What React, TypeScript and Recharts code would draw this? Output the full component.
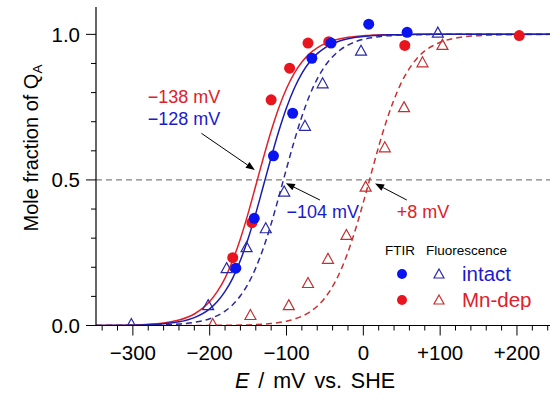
import React from "react";
import {
    ComposedChart,
    Line,
    Scatter,
    XAxis,
    YAxis,
    ReferenceLine,
    ReferenceDot,
    Legend,
} from "recharts";

const curveE = [
    -348, -300, -260, -240, -220, -200, -190, -180, -170, -160, -150, -140,
    -130, -120, -110, -100, -90, -80, -70, -60, -50, -40, -30, -20, -10, 0, 10,
    20, 30, 40, 50, 60, 70, 80, 90, 100, 120, 140, 160, 200, 243,
];
// solid blue, Em -128 mV
const ftirIntactFit = [
    0.0002, 0.0012, 0.0058, 0.0126, 0.0271, 0.0572, 0.0822, 0.117, 0.163,
    0.224, 0.298, 0.385, 0.481, 0.577, 0.668, 0.748, 0.814, 0.866, 0.905,
    0.934, 0.954, 0.968, 0.978, 0.985, 0.99, 0.993, 0.995, 0.997, 0.998, 0.999,
    0.999, 0.999, 1, 1, 1, 1, 1, 1, 1, 1, 1,
];
// solid red, Em -138 mV
const ftirMnFit = [
    0.0003, 0.0018, 0.0086, 0.0186, 0.0395, 0.0822, 0.117, 0.163, 0.224, 0.298,
    0.385, 0.481, 0.577, 0.668, 0.748, 0.814, 0.866, 0.905, 0.934, 0.954,
    0.968, 0.978, 0.985, 0.99, 0.993, 0.995, 0.997, 0.998, 0.999, 0.999, 0.999,
    1, 1, 1, 1, 1, 1, 1, 1, 1, 1,
];
// dashed blue, Em -104 mV
const fluoIntactFit = [
    0.0001, 0.0005, 0.0023, 0.005, 0.0108, 0.0233, 0.034, 0.0494, 0.0712,
    0.102, 0.143, 0.198, 0.267, 0.349, 0.442, 0.539, 0.633, 0.718, 0.79, 0.847,
    0.891, 0.923, 0.947, 0.963, 0.975, 0.983, 0.988, 0.992, 0.995, 0.996,
    0.998, 0.998, 0.999, 0.999, 1, 1, 1, 1, 1, 1, 1,
];
// dashed red, Em +8 mV
const fluoMnFit = [
    0, 0, 0, 0.0001, 0.0001, 0.0003, 0.0005, 0.0007, 0.001, 0.0014, 0.0021,
    0.0031, 0.0046, 0.0068, 0.01, 0.0147, 0.0216, 0.0316, 0.0459, 0.0662,
    0.0948, 0.134, 0.186, 0.252, 0.332, 0.423, 0.519, 0.615, 0.702, 0.776,
    0.837, 0.883, 0.918, 0.943, 0.96, 0.973, 0.987, 0.994, 0.997, 0.999, 1,
];

// measured points
const ftirIntactE = [-166, -142, -117, -92, -67, -42, 7, 57];
const ftirIntactY = [0.197, 0.368, 0.583, 0.729, 0.918, 0.97, 1.035, 1.007];
const ftirMnE = [-170, -145, -120, -96, -72, -45, 54, 203];
const ftirMnY = [0.233, 0.353, 0.775, 0.884, 0.97, 0.975, 0.962, 0.996];
const fluoIntactE = [-302, -202, -178, -152, -127, -103, -76, -53, -3, 97];
const fluoIntactY = [
    0.005, 0.07, 0.197, 0.269, 0.334, 0.46, 0.686, 0.832, 0.944, 1.006,
];
const fluoMnE = [-196, -147, -97, -72, -46, -22, 3, 28, 53, 77, 103];
const fluoMnY = [
    0.005, 0.036, 0.07, 0.146, 0.229, 0.311, 0.477, 0.612, 0.75, 0.904, 0.964,
];

const xTicks = [
    -340, -320, -300, -280, -260, -240, -220, -200, -180, -160, -140, -120,
    -100, -80, -60, -40, -20, 0, 20, 40, 60, 80, 100, 120, 140, 160, 180, 200,
    220, 240,
];
const yTicks = [0, 0.1, 0.2, 0.3, 0.4, 0.5, 0.6, 0.7, 0.8, 0.9, 1.0];

const FONT = "'Liberation Sans', Arial, sans-serif";
const BLUE_DOT = "#0a14f0";
const RED_DOT = "#e8141e";
const BLUE_LINE = "#1c1cb0";
const RED_LINE = "#e0202a";
const BLUE_TEXT = "#1a1ad0";
const BLUE_DASH = "#2a2a9c";
const RED_DASH = "#c83232";
const BLUE_TRI = "#2a2aa8";
const RED_TRI = "#c43030";

const pts = (xs: number[], ys: number[]) =>
    xs.map((E, i) => ({ E, y: ys[i] }));

function fmtE(v: number) {
    if (v < 0) return "\u2212" + Math.abs(v);
    if (v > 0) return "+" + v;
    return "0";
}

function XTick(props: any) {
    const { x, y, payload } = props;
    const v = payload.value;
    const major = v % 100 === 0;
    const axisY = y - 20;
    return (
        <g>
            <line
                x1={x}
                x2={x}
                y1={axisY}
                y2={axisY + (major ? 10 : 5)}
                stroke="#000"
                strokeWidth={1}
            />
            {major && (
                <text
                    x={x}
                    y={y}
                    dy="0.71em"
                    textAnchor="middle"
                    fontSize={20.5}
                    fontFamily={FONT}
                    fill="#000"
                >
                    {fmtE(v)}
                </text>
            )}
        </g>
    );
}

function YTick(props: any) {
    const { x, y, payload } = props;
    const v = payload.value;
    const major = Math.abs(v * 2 - Math.round(v * 2)) < 1e-6;
    const axisX = x + 16;
    return (
        <g>
            <line
                x1={axisX - (major ? 10 : 5)}
                x2={axisX}
                y1={y}
                y2={y}
                stroke="#000"
                strokeWidth={1}
            />
            {major && (
                <text
                    x={x}
                    y={y}
                    dy="0.355em"
                    textAnchor="end"
                    fontSize={20.5}
                    fontFamily={FONT}
                    fill="#000"
                >
                    {v.toFixed(1)}
                </text>
            )}
        </g>
    );
}

const circle = (color: string) => (p: any) =>
    <circle cx={p.cx} cy={p.cy} r={5.5} fill={color} />;

const triangle = (color: string) => (p: any) =>
    (
        <polygon
            points={`${p.cx},${p.cy - 5.5} ${p.cx + 5.5},${p.cy + 4.5} ${
                p.cx - 5.5
            },${p.cy + 4.5}`}
            fill="none"
            stroke={color}
            strokeWidth={1.2}
        />
    );

const note = (txt: string, color: string) => (p: any) =>
    (
        <text
            x={p.cx}
            y={p.cy}
            fill={color}
            fontSize={18}
            fontFamily={FONT}
        >
            {txt}
        </text>
    );

const arrow = (p: any) => {
    const { x1, y1, x2, y2 } = p;
    const dx = x2 - x1;
    const dy = y2 - y1;
    const len = Math.sqrt(dx * dx + dy * dy) || 1;
    const ux = dx / len;
    const uy = dy / len;
    const hl = 9;
    const hw = 3.5;
    const bx = x2 - ux * hl;
    const by = y2 - uy * hl;
    return (
        <g>
            <line x1={x1} y1={y1} x2={bx} y2={by} stroke="#000" strokeWidth={1} />
            <polygon
                points={`${x2},${y2} ${bx - uy * hw},${by + ux * hw} ${
                    bx + uy * hw
                },${by - ux * hw}`}
                fill="#000"
            />
        </g>
    );
};

function LegendBox() {
    const tri = (cx: number, cy: number, color: string) => (
        <polygon
            points={`${cx},${cy - 5} ${cx + 5},${cy + 4} ${cx - 5},${cy + 4}`}
            fill="none"
            stroke={color}
            strokeWidth={1.2}
        />
    );
    return (
        <svg width={160} height={72} style={{ display: "block" }}>
            <text x={5} y={17} fontSize={13.5} fontFamily={FONT} fill="#000">
                FTIR
            </text>
            <text x={46} y={17} fontSize={13.5} fontFamily={FONT} fill="#000">
                Fluorescence
            </text>
            <circle cx={22} cy={36} r={5} fill={BLUE_DOT} />
            {tri(59, 36, BLUE_TRI)}
            <text x={82} y={43} fontSize={20.5} fontFamily={FONT} fill={BLUE_TEXT}>
                intact
            </text>
            <circle cx={22} cy={62} r={5} fill={RED_DOT} />
            {tri(59, 62, RED_TRI)}
            <text x={82} y={69} fontSize={20.5} fontFamily={FONT} fill={RED_LINE}>
                Mn-dep
            </text>
        </svg>
    );
}

export default function App() {
    return (
        <div style={{ width: 550, height: 402, background: "#fff" }}>
            <style>{"body{margin:0}"}</style>
            <ComposedChart
                width={550}
                height={402}
                margin={{ top: 7, right: 0, bottom: 36.5, left: 36 }}
            >
                <XAxis
                    dataKey="E"
                    type="number"
                    domain={[-348, 243]}
                    allowDataOverflow
                    ticks={xTicks}
                    interval={0}
                    tick={<XTick />}
                    tickLine={false}
                    tickSize={10}
                    tickMargin={10}
                    height={40}
                    axisLine={{ stroke: "#000", strokeWidth: 1.2 }}
                    label={{
                        content: (p: any) => (
                            <text
                                x={p.viewBox.x + p.viewBox.width / 2 - 8}
                                y={388}
                                textAnchor="middle"
                                fontSize={21.5}
                                fontFamily={FONT}
                                fill="#000"
                                style={{ wordSpacing: 3 }}
                            >
                                <tspan fontStyle="italic">E</tspan> / mV vs. SHE
                            </text>
                        ),
                    }}
                />
                <XAxis
                    xAxisId="top"
                    orientation="top"
                    type="number"
                    domain={[-348, 243]}
                    allowDataOverflow
                    height={0}
                    tick={false}
                    tickLine={false}
                    axisLine={{ stroke: "#000", strokeWidth: 1.2 }}
                />
                <YAxis
                    dataKey="y"
                    type="number"
                    domain={[0, 1.094]}
                    allowDataOverflow
                    ticks={yTicks}
                    interval={0}
                    tick={<YTick />}
                    tickLine={false}
                    tickSize={10}
                    tickMargin={6}
                    width={60}
                    axisLine={{ stroke: "#000", strokeWidth: 1.2 }}
                    label={{
                        content: () => (
                            <text
                                x={38}
                                y={148}
                                transform="rotate(-90, 38, 148)"
                                textAnchor="middle"
                                fontSize={20}
                                fontFamily={FONT}
                                fill="#000"
                            >
                                Mole fraction of Q
                                <tspan fontSize={13.5} dy={4}>
                                    A
                                </tspan>
                            </text>
                        ),
                    }}
                />
                <ReferenceLine
                    y={0.5}
                    stroke="#808080"
                    strokeWidth={1.2}
                    strokeDasharray="6 4"
                />
                <Line
                    data={pts(curveE, fluoMnFit)}
                    dataKey="y"
                    type="monotone"
                    stroke={RED_DASH}
                    strokeWidth={1.5}
                    strokeDasharray="6 4"
                    dot={false}
                    isAnimationActive={false}
                />
                <Line
                    data={pts(curveE, fluoIntactFit)}
                    dataKey="y"
                    type="monotone"
                    stroke={BLUE_DASH}
                    strokeWidth={1.5}
                    strokeDasharray="6 4"
                    dot={false}
                    isAnimationActive={false}
                />
                <Line
                    data={pts(curveE, ftirMnFit)}
                    dataKey="y"
                    type="monotone"
                    stroke={RED_LINE}
                    strokeWidth={1.5}
                    dot={false}
                    isAnimationActive={false}
                />
                <Line
                    data={pts(curveE, ftirIntactFit)}
                    dataKey="y"
                    type="monotone"
                    stroke={BLUE_LINE}
                    strokeWidth={1.5}
                    dot={false}
                    isAnimationActive={false}
                />
                <Scatter
                    data={pts(fluoIntactE, fluoIntactY)}
                    shape={triangle(BLUE_TRI)}
                    isAnimationActive={false}
                />
                <Scatter
                    data={pts(fluoMnE, fluoMnY)}
                    shape={triangle(RED_TRI)}
                    isAnimationActive={false}
                />
                <Scatter
                    data={pts(ftirMnE, ftirMnY)}
                    shape={circle(RED_DOT)}
                    isAnimationActive={false}
                />
                <Scatter
                    data={pts(ftirIntactE, ftirIntactY)}
                    shape={circle(BLUE_DOT)}
                    isAnimationActive={false}
                />
                <ReferenceLine
                    segment={[
                        { x: -210.7, y: 0.66 },
                        { x: -141.2, y: 0.534 },
                    ]}
                    shape={arrow}
                />
                <ReferenceLine
                    segment={[
                        { x: -56.5, y: 0.431 },
                        { x: -100.8, y: 0.489 },
                    ]}
                    shape={arrow}
                />
                <ReferenceLine
                    segment={[
                        { x: 56.6, y: 0.431 },
                        { x: 15.3, y: 0.488 },
                    ]}
                    shape={arrow}
                />
                <ReferenceDot x={-280.6} y={0.763} r={0} shape={note("\u2212138 mV", RED_LINE)} />
                <ReferenceDot x={-280.6} y={0.689} r={0} shape={note("\u2212128 mV", BLUE_TEXT)} />
                <ReferenceDot x={-99.9} y={0.369} r={0} shape={note("\u2212104 mV", BLUE_TEXT)} />
                <ReferenceDot x={43.5} y={0.369} r={0} shape={note("+8 mV", RED_LINE)} />
                <Legend
                    layout="vertical"
                    verticalAlign="middle"
                    align="center"
                    wrapperStyle={{ left: 380, top: 238, width: 160 }}
                    content={() => <LegendBox />}
                />
            </ComposedChart>
        </div>
    );
}
